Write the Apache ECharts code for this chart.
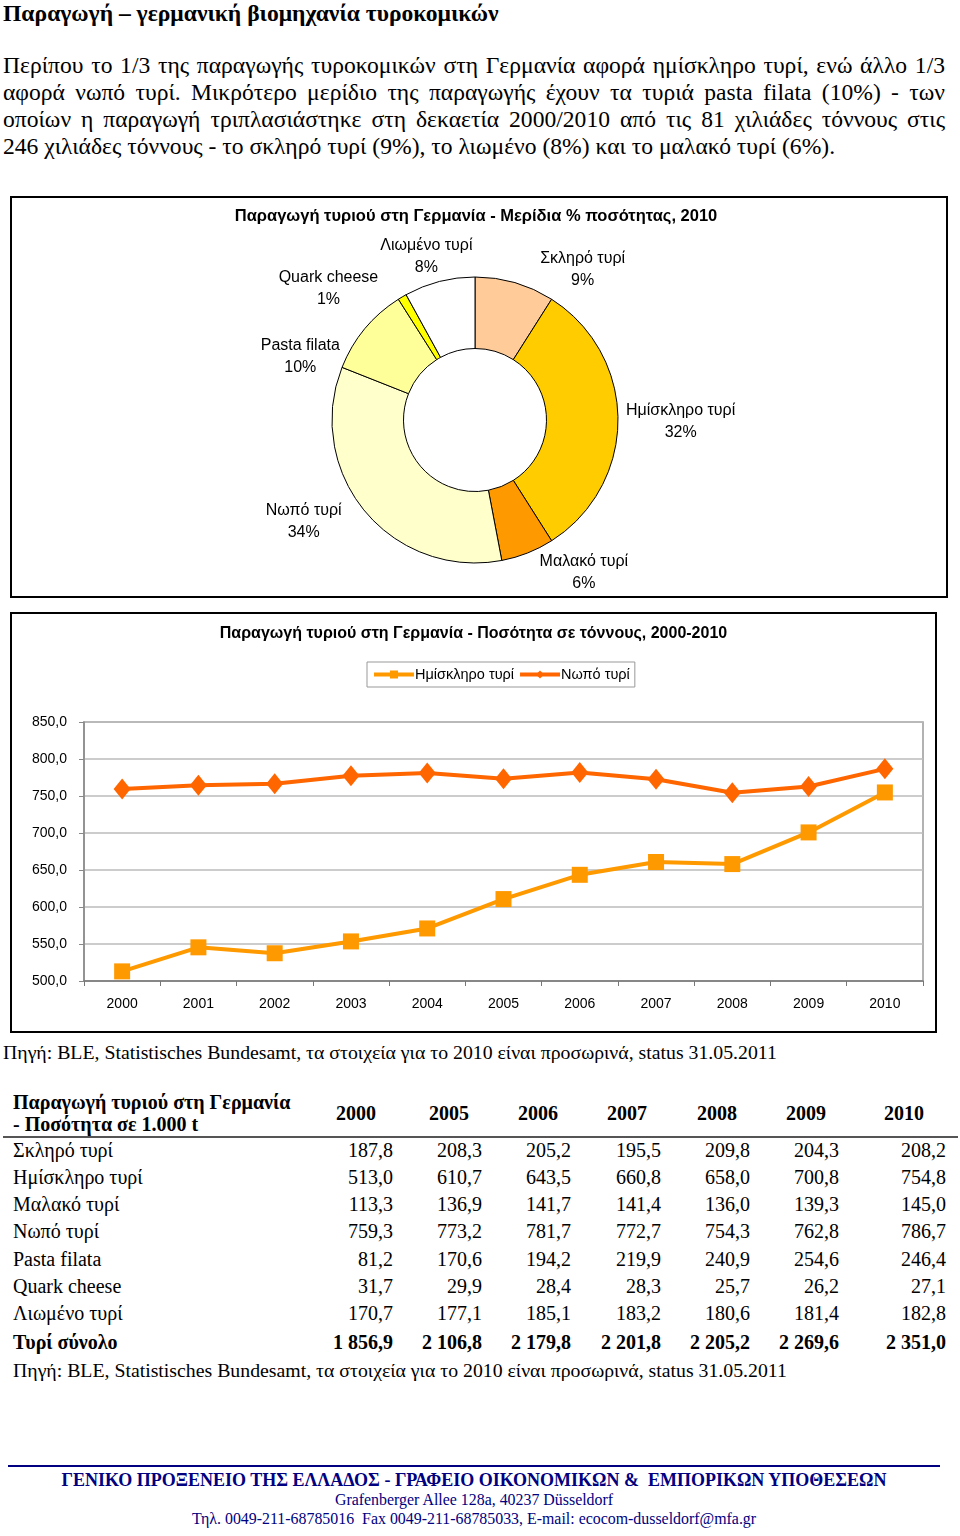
<!DOCTYPE html>
<html><head><meta charset="utf-8">
<script src="https://cdn.jsdelivr.net/npm/echarts/dist/echarts.min.js"></script>
<style>
body{margin:0;width:960px;height:1536px;position:relative;background:#fff;font-family:"Liberation Serif","Times New Roman",serif;color:#000;overflow:hidden}
.abs{position:absolute;white-space:nowrap}
.para div{text-align:justify;text-align-last:justify;white-space:nowrap}
.para div.last{text-align-last:left}
.box{position:absolute;border:2px solid #000;box-sizing:border-box;pointer-events:none}
.cell{position:absolute;white-space:nowrap;font-size:20px;line-height:27px}
</style>
</head><body>
<div class="abs" style="left:3px;top:0px;font-size:23.6px;line-height:27px;font-weight:bold">Παραγωγή – γερμανική βιομηχανία τυροκομικών</div>
<div class="abs para" style="left:3px;top:52px;width:942px;font-size:23.6px;line-height:27px;white-space:normal">
<div>Περίπου το 1/3 της παραγωγής τυροκομικών στη Γερμανία αφορά ημίσκληρο τυρί, ενώ άλλο 1/3</div>
<div>αφορά νωπό τυρί. Μικρότερο μερίδιο της παραγωγής έχουν τα τυριά pasta filata (10%) - των</div>
<div>οποίων η παραγωγή τριπλασιάστηκε στη δεκαετία 2000/2010 από τις 81 χιλιάδες τόννους στις</div>
<div class="last">246 χιλιάδες τόννους - το σκληρό τυρί (9%), το λιωμένο (8%) και το μαλακό τυρί (6%).</div>
</div>

<div id="pie" class="abs" style="left:10px;top:196px;width:938px;height:402px"></div>
<div class="box" style="left:10px;top:196px;width:938px;height:402px"></div>
<div id="line" class="abs" style="left:10px;top:612px;width:927px;height:421px"></div>
<div class="box" style="left:10px;top:612px;width:927px;height:421px"></div>

<div class="abs" style="left:3px;top:1039px;font-size:19.8px;line-height:26px">Πηγή: BLE, Statistisches Bundesamt, τα στοιχεία για το 2010 είναι προσωρινά, status 31.05.2011</div>

<div id="table"></div>
<div class="abs" style="left:3px;top:1136px;width:955px;height:2px;background:#555"></div>
<div class="abs" style="left:13px;top:1357px;font-size:19.8px;line-height:26px">Πηγή: BLE, Statistisches Bundesamt, τα στοιχεία για το 2010 είναι προσωρινά, status 31.05.2011</div>

<div class="abs" style="left:8px;top:1465px;width:932px;height:2px;background:#000080"></div>
<div class="abs" style="left:0;width:948px;text-align:center;top:1470px;font-size:18px;line-height:20px;font-weight:bold;color:#000080">ΓΕΝΙΚΟ ΠΡΟΞΕΝΕΙΟ ΤΗΣ ΕΛΛΑΔΟΣ - ΓΡΑΦΕΙΟ ΟΙΚΟΝΟΜΙΚΩΝ &amp;&nbsp; ΕΜΠΟΡΙΚΩΝ ΥΠΟΘΕΣΕΩΝ</div>
<div class="abs" style="left:0;width:948px;text-align:center;top:1491px;font-size:15.9px;line-height:18px;color:#000080">Grafenberger Allee 128a, 40237 Düsseldorf</div>
<div class="abs" style="left:0;width:948px;text-align:center;top:1510px;font-size:15.9px;line-height:18px;color:#000080">Τηλ. 0049-211-68785016&nbsp; Fax 0049-211-68785033, E-mail: ecocom-dusseldorf@mfa.gr</div>

<script>
// ---- Pie data (shares %, 2010) ----
const pieNames = ['Σκληρό τυρί','Ημίσκληρο τυρί','Μαλακό τυρί','Νωπό τυρί','Pasta filata','Quark cheese','Λιωμένο τυρί'];
const pieValues = [9, 32, 6, 34, 10, 1, 8];
const pieColors = ['#FFCC99','#FFCC00','#FF9900','#FFFFCC','#FFFF99','#FFFF00','#FFFFFF'];

// ---- Line data (1.000 t, 2000-2010) ----
const lineYears = ['2000','2001','2002','2003','2004','2005','2006','2007','2008','2009','2010'];
const semiHardLine = [513.0, 545.5, 537.5, 553.5, 571.0, 610.7, 643.5, 660.8, 658.0, 700.8, 754.8];
const freshLine = [759.3, 764.5, 766.5, 777.5, 781.0, 773.2, 781.7, 772.7, 754.3, 762.8, 786.7];

// ---- Table data ----
const tableYears = ['2000','2005','2006','2007','2008','2009','2010'];
const rowNames = ['Σκληρό τυρί','Ημίσκληρο τυρί','Μαλακό τυρί','Νωπό τυρί','Pasta filata','Quark cheese','Λιωμένο τυρί','Τυρί σύνολο'];
const hardRow = [187.8, 208.3, 205.2, 195.5, 209.8, 204.3, 208.2];
const semiHardRow = [513.0, 610.7, 643.5, 660.8, 658.0, 700.8, 754.8];
const softRow = [113.3, 136.9, 141.7, 141.4, 136.0, 139.3, 145.0];
const freshRow = [759.3, 773.2, 781.7, 772.7, 754.3, 762.8, 786.7];
const pastaRow = [81.2, 170.6, 194.2, 219.9, 240.9, 254.6, 246.4];
const quarkRow = [31.7, 29.9, 28.4, 28.3, 25.7, 26.2, 27.1];
const meltedRow = [170.7, 177.1, 185.1, 183.2, 180.6, 181.4, 182.8];
const totalRow = [1856.9, 2106.8, 2179.8, 2201.8, 2205.2, 2269.6, 2351.0];

function fmt(v){
  const s = v.toFixed(1).split('.');
  const intp = s[0].replace(/\B(?=(\d{3})+(?!\d))/g, ' ');
  return intp + ',' + s[1];
}

// ---- Table build ----
(function(){
  const t = document.getElementById('table');
  const valRight = [393, 482, 571, 661, 750, 839, 946];
  const headCenter = [356, 449, 538, 627, 717, 806, 904];
  const rows = [hardRow, semiHardRow, softRow, freshRow, pastaRow, quarkRow, meltedRow, totalRow];
  const rowY = [1150, 1177, 1204, 1231, 1259, 1286, 1313, 1342];
  let html = '';
  html += '<div class="cell" style="left:13px;top:1091px;font-weight:bold;line-height:22px">Παραγωγή τυριού στη Γερμανία<br>- Ποσότητα σε 1.000 t</div>';
  tableYears.forEach((y,i)=>{
    html += '<div class="cell" style="left:'+(headCenter[i]-40)+'px;width:80px;text-align:center;top:'+(1113-13.5)+'px;font-weight:bold">'+y+'</div>';
  });
  rows.forEach((r,ri)=>{
    const bold = ri === rows.length-1 ? 'font-weight:bold;' : '';
    html += '<div class="cell" style="'+bold+'left:13px;top:'+(rowY[ri]-13.5)+'px">'+rowNames[ri]+'</div>';
    r.forEach((v,ci)=>{
      html += '<div class="cell" style="'+bold+'left:'+(valRight[ci]-120)+'px;width:120px;text-align:right;top:'+(rowY[ri]-13.5)+'px">'+fmt(v)+'</div>';
    });
  });
  t.innerHTML = html;
})();

const sans = '"Liberation Sans", Arial, sans-serif';

// label nudges (style only), in pieNames order
const labelNudge = [[18,-5],[-5,2],[4,12],[-12,5],[6,-9],[17,-31],[40,-17]];

// ---- Pie chart ----
const pie = echarts.init(document.getElementById('pie'), null, {renderer:'canvas'});
pie.setOption({
  animation:false,
  title:{text:'Παραγωγή τυριού στη Γερμανία - Μερίδια % ποσότητας, 2010', left:466, top:12, padding:0, textAlign:'center',
    textStyle:{fontFamily:sans, fontSize:16.5, fontWeight:'bold', color:'#000'}},
  series:[{
    type:'pie', center:[465,224], radius:[71.5,143], startAngle:90, clockwise:true,
    percentPrecision:0,
    itemStyle:{borderColor:'#000', borderWidth:1},
    emphasis:{disabled:true},
    label:{show:true, position:'outside', formatter:'{b}\n{d}%', fontFamily:sans, fontSize:16, lineHeight:22, color:'#000'},
    labelLine:{show:false, length:8, length2:0},
    labelLayout:function(p){
      const r = p.labelRect;
      const n = labelNudge[p.dataIndex] || [0,0];
      return {x:r.x + r.width/2 + n[0], y:r.y + r.height/2 + n[1], align:'center', verticalAlign:'middle'};
    },
    data: pieNames.map((n,i)=>({name:n, value:pieValues[i], itemStyle:{color:pieColors[i]}}))
  }]
});

// ---- Line chart ----
const line = echarts.init(document.getElementById('line'), null, {renderer:'canvas'});
line.setOption({
  animation:false,
  title:{text:'Παραγωγή τυριού στη Γερμανία - Ποσότητα σε τόννους, 2000-2010', left:'center', top:14, padding:0,
    textStyle:{fontFamily:sans, fontSize:16, fontWeight:'bold', color:'#000'}},
  legend:{left:357, top:50, padding:[5,5], borderColor:'#999', borderWidth:1, itemGap:4, itemWidth:40, itemHeight:10,
    lineStyle:{width:4},
    textStyle:{fontFamily:sans, fontSize:14.5, color:'#000', padding:[0,0,0,-4]},
    data:['Ημίσκληρο τυρί','Νωπό τυρί']},
  grid:{left:74, right:14, top:110, bottom:52, show:true, borderColor:'#999', borderWidth:1.5},
  xAxis:{type:'category', data:lineYears, boundaryGap:true,
    axisLine:{lineStyle:{color:'#777', width:1.5}},
    axisTick:{show:true, length:5, lineStyle:{color:'#777'}},
    axisLabel:{fontFamily:sans, fontSize:14, color:'#000', margin:16}},
  yAxis:{type:'value', min:500, max:850, interval:50,
    axisLine:{show:true, lineStyle:{color:'#888', width:1.5}},
    axisTick:{show:true, length:5, lineStyle:{color:'#888'}},
    splitLine:{lineStyle:{color:'#BBBBBB', width:1.5}},
    axisLabel:{fontFamily:sans, fontSize:14, color:'#000', margin:17, formatter:v=>v.toFixed(1).replace('.',',')}},
  series:[
    {name:'Ημίσκληρο τυρί', type:'line', data:semiHardLine, symbol:'rect', symbolSize:16,
      lineStyle:{width:4, color:'#FF9900'}, itemStyle:{color:'#FF9900'}, emphasis:{disabled:true}},
    {name:'Νωπό τυρί', type:'line', data:freshLine, symbol:'diamond', symbolSize:[17,21],
      lineStyle:{width:4, color:'#FF6600'}, itemStyle:{color:'#FF6600'}, emphasis:{disabled:true}}
  ]
});
</script>
</body></html>
